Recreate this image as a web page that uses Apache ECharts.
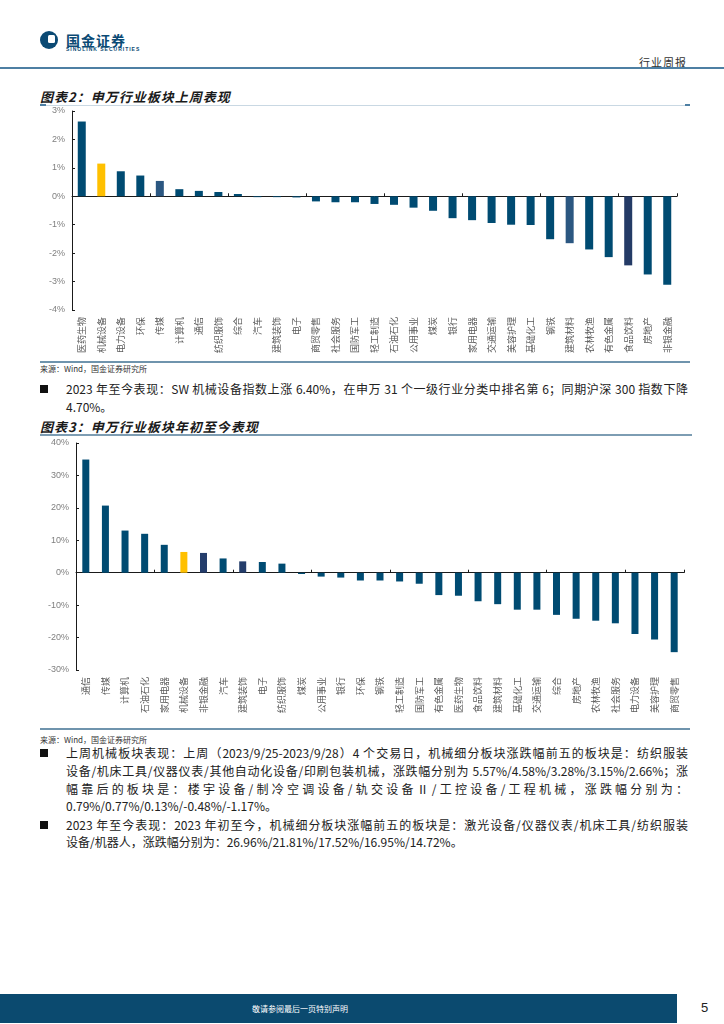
<!DOCTYPE html>
<html><head><meta charset="utf-8">
<script src="https://cdn.jsdelivr.net/npm/echarts/dist/echarts.min.js"></script>
<style>
body{margin:0;width:724px;height:1024px;position:relative;overflow:hidden;background:#fff;font-family:'Noto Sans CJK SC',sans-serif;color:#222}
.a{position:absolute}
.ln{position:absolute;left:66px;width:622px;font-size:12px;line-height:18px;height:18px;text-align:justify;text-align-last:justify;color:#222;white-space:normal}
.last{text-align-last:left}
.bul{position:absolute;left:40px;width:8px;height:8px;background:#111}
.src{position:absolute;left:40px;font-size:8px;line-height:10px;color:#333}
.title{position:absolute;left:40px;font-size:13px;line-height:15px;font-weight:bold;font-style:italic;letter-spacing:1px;color:#1a1a1a}
</style></head>
<body>
<!-- header -->
<div class="a" style="left:40px;top:31px;width:18px;height:18px;border-radius:50%;background:#0b4a74"></div>
<div class="a" style="left:48px;top:35px;width:7px;height:8px;border-radius:1.5px;background:#fff"></div>
<div class="a" style="left:66px;top:33px;font-size:14px;line-height:14px;font-weight:bold;color:#0b4a74;letter-spacing:1px">国金证券</div>
<div class="a" style="left:66px;top:47px;font-size:5px;line-height:5px;font-weight:bold;color:#0b4a74;letter-spacing:1px;font-family:'Liberation Sans',sans-serif">SINOLINK SECURITIES</div>
<div class="a" style="left:639px;top:56px;font-size:11px;line-height:12px;color:#333;letter-spacing:1px">行业周报</div>
<div class="a" style="left:0;top:67px;width:724px;height:2px;background:#4d7fa3"></div>

<!-- chart 2 title -->
<div class="title" style="top:89px">图表2：申万行业板块上周表现</div>
<div class="a" style="left:40px;top:105px;width:650px;height:1px;background:#c9d8e3"></div>
<div class="a" style="left:40px;top:104px;width:6px;height:2px;background:#4d7fa3"></div>
<div class="a" style="left:685px;top:104px;width:5px;height:2px;background:#4d7fa3"></div>

<div id="c1" class="a" style="left:0;top:100px;width:724px;height:260px"></div>

<div class="a" style="left:40px;top:361px;width:650px;height:2px;background:#6f94ad"></div>
<div class="src" style="top:364px">来源：Wind，国金证券研究所</div>

<div class="bul" style="top:385px"></div>
<div class="ln" style="top:380px">2023 年至今表现：SW 机械设备指数上涨 6.40%，在申万 31 个一级行业分类中排名第 6；同期沪深 300 指数下降</div>
<div class="ln last" style="top:398px">4.70%。</div>

<div class="title" style="top:419px">图表3：申万行业板块年初至今表现</div>
<div class="a" style="left:40px;top:434px;width:652px;height:2px;background:#7d9db3"></div>

<div id="c2" class="a" style="left:0;top:435px;width:724px;height:290px"></div>

<div class="a" style="left:40px;top:728px;width:650px;height:2px;background:#6f94ad"></div>
<div class="src" style="top:735px">来源：Wind，国金证券研究所</div>

<div class="bul" style="top:749px"></div>
<div class="ln" style="top:744px">上周机械板块表现：上周（2023/9/25-2023/9/28）4 个交易日，机械细分板块涨跌幅前五的板块是：纺织服装</div>
<div class="ln" style="top:762px">设备/机床工具/仪器仪表/其他自动化设备/印刷包装机械，涨跌幅分别为 5.57%/4.58%/3.28%/3.15%/2.66%；涨</div>
<div class="ln" style="top:780px">幅靠后的板块是：楼宇设备/制冷空调设备/轨交设备Ⅱ/工控设备/工程机械，涨跌幅分别为：</div>
<div class="ln last" style="top:797px">0.79%/0.77%/0.13%/-0.48%/-1.17%。</div>

<div class="bul" style="top:821px"></div>
<div class="ln" style="top:816px">2023 年至今表现：2023 年初至今，机械细分板块涨幅前五的板块是：激光设备/仪器仪表/机床工具/纺织服装</div>
<div class="ln last" style="top:833px">设备/机器人，涨跌幅分别为：26.96%/21.81%/17.52%/16.95%/14.72%。</div>

<!-- footer -->
<div class="a" style="left:0;top:994px;width:677px;height:29px;background:#0b4a6f"></div>
<div class="a" style="left:250px;top:1004px;width:100px;text-align:center;font-size:8px;line-height:10px;color:#fff">敬请参阅最后一页特别声明</div>
<div class="a" style="left:701px;top:1001px;font-size:13px;line-height:14px;color:#222;font-family:'Liberation Sans',sans-serif">5</div>

<script>
// ---- data: chart "上周表现" ----
const weekCats = ['医药生物','机械设备','电力设备','环保','传媒','计算机','通信','纺织服饰','综合','汽车','建筑装饰','电子','商贸零售','社会服务','国防军工','轻工制造','石油石化','公用事业','煤炭','银行','家用电器','交通运输','美容护理','基础化工','钢铁','建筑材料','农林牧渔','有色金属','食品饮料','房地产','非银金融'];
const weekVals = [2.63,1.15,0.88,0.73,0.54,0.25,0.19,0.15,0.08,-0.03,-0.03,-0.04,-0.18,-0.21,-0.21,-0.27,-0.30,-0.40,-0.51,-0.77,-0.84,-0.94,-1.00,-1.01,-1.51,-1.65,-1.87,-2.14,-2.43,-2.75,-3.11];
// ---- data: chart "年初至今表现" ----
const ytdCats = ['通信','传媒','计算机','石油石化','家用电器','机械设备','非银金融','汽车','建筑装饰','电子','纺织服饰','煤炭','公用事业','银行','环保','钢铁','轻工制造','国防军工','有色金属','医药生物','食品饮料','建筑材料','基础化工','交通运输','综合','房地产','农林牧渔','社会服务','电力设备','美容护理','商贸零售'];
const ytdVals = [34.9,20.7,13.0,12.0,8.6,6.4,6.1,4.4,3.5,3.3,2.8,-0.4,-1.2,-1.5,-2.4,-2.4,-2.7,-3.4,-6.9,-7.1,-8.8,-9.7,-11.4,-11.4,-13.0,-14.2,-14.8,-15.6,-18.9,-20.6,-24.5];
// ---- tick settings ----
const weekTicks = {min:-4, max:3, interval:1};
const ytdTicks = {min:-30, max:40, interval:10};

// ---- styles ----
const BASE = '#004b72';
const weekColors = {'机械设备':'#ffc000','传媒':'#2b5781','建筑材料':'#2b5781','食品饮料':'#243b66'};
const ytdColors = {'机械设备':'#ffc000','非银金融':'#243d6b','建筑装饰':'#243d6b'};
const FONT = "'Liberation Sans','Noto Sans CJK SC',sans-serif";

function build(cats, vals, colors, ticks, grid, barW){
  return {
    animation:false,
    grid: grid,
    xAxis:[
      {type:'category', data:cats, position:'bottom',
       axisLine:{show:false,onZero:false}, axisTick:{show:false},
       axisLabel:{rotate:90, interval:0, fontSize:9, color:'#595959', margin:7, fontFamily:"'Noto Sans CJK SC',sans-serif"}},
      {type:'category', data:cats, position:'top',
       axisLine:{show:true,onZero:true,lineStyle:{color:'#1a1a1a',width:1}},
       axisTick:{show:true,length:3,lineStyle:{color:'#1a1a1a'}},
       axisLabel:{show:false}}
    ],
    yAxis:{type:'value', min:ticks.min, max:ticks.max, interval:ticks.interval,
      axisLine:{show:true,lineStyle:{color:'#1a1a1a'}},
      axisTick:{show:true,inside:true,length:3,lineStyle:{color:'#1a1a1a'}},
      splitLine:{show:false},
      axisLabel:{formatter:'{value}%', fontSize:9, color:'#7f7f7f', margin:7, fontFamily:FONT}},
    series:[{type:'bar', xAxisIndex:0, barWidth:barW,
      data: vals.map((v,i)=>({value:v, itemStyle:{color: colors[cats[i]] || BASE}}))}]
  };
}

const c1 = echarts.init(document.getElementById('c1'), null, {renderer:'canvas'});
c1.setOption(build(weekCats, weekVals, weekColors, weekTicks, {left:72, top:11, width:605, height:199}, 8));
const c2 = echarts.init(document.getElementById('c2'), null, {renderer:'canvas'});
c2.setOption(build(ytdCats, ytdVals, ytdColors, ytdTicks, {left:76, top:8, width:608, height:227}, 7));
</script>
</body></html>
